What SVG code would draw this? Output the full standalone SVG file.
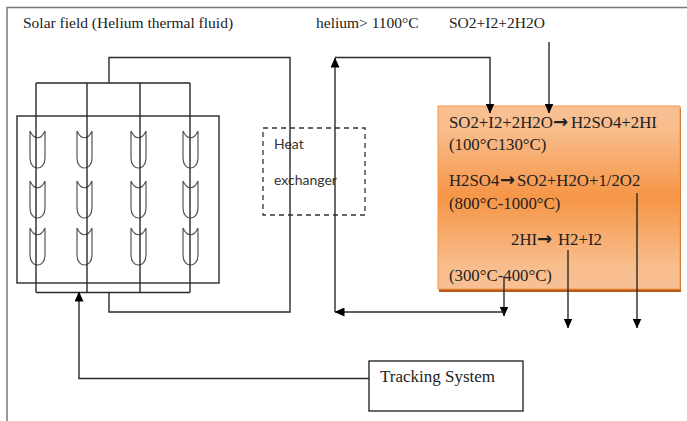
<svg xmlns="http://www.w3.org/2000/svg" width="687" height="421" viewBox="0 0 687 421">
<style>
text{font-family:"Liberation Serif",serif;font-size:15.5px;fill:#222}
.b{font-size:16.8px}
.ar{font-family:"DejaVu Sans",sans-serif;font-weight:bold;font-size:18px}
.ts{font-size:17px}
.l{fill:none;stroke:#2a2a2a;stroke-width:1.4}
.t{fill:none;stroke:#555;stroke-width:1.2}
text.s{font-family:"Lato",sans-serif;font-size:14px;fill:#333}
</style>
<defs>
<marker id="a" markerWidth="10" markerHeight="9" refX="9.5" refY="4.5" orient="auto" markerUnits="userSpaceOnUse"><path d="M0 0L10 4.5L0 9Z" fill="#000"/></marker>
<linearGradient id="g" x1="0" y1="0" x2="0" y2="1"><stop offset="0" stop-color="#f8c094"/><stop offset=".13" stop-color="#f8bd8c"/><stop offset=".5" stop-color="#f69546"/><stop offset=".87" stop-color="#f8bd8c"/><stop offset="1" stop-color="#f8c094"/></linearGradient>
<g id="u"><path class="t" d="M30 0V27C30 34 34 37 37.5 37C41 37 45 34 45 27V0M30 0C34 9 41 9 45 0"/></g>
</defs>
<rect width="687" height="421" fill="#fff"/>
<path d="M7 421V7.5H687" fill="none" stroke="#777" stroke-width="1.5"/>
<g id="solar-field">
<rect class="l" x="17" y="116" width="202" height="167"/>
<use href="#u" y="131"/><use href="#u" x="47" y="131"/><use href="#u" x="101" y="131"/><use href="#u" x="153" y="131"/>
<use href="#u" y="181"/><use href="#u" x="47" y="181"/><use href="#u" x="101" y="181"/><use href="#u" x="153" y="181"/>
<use href="#u" y="228"/><use href="#u" x="47" y="228"/><use href="#u" x="101" y="228"/><use href="#u" x="153" y="228"/>
</g>
<g id="heat-exchanger">
<rect x="263" y="128" width="102" height="87" fill="none" stroke="#333" stroke-width="1.3" stroke-dasharray="5 4"/>
<text class="s" x="274" y="149">Heat</text>
<text class="s" x="274" y="185">exchanger</text>
</g>
<g id="reactor">
<rect x="439" y="108" width="242" height="184" fill="#b85a1c"/>
<rect x="438" y="106" width="242" height="183" fill="url(#g)" stroke="#f79646"/>
<text class="b" x="449" y="128">SO2+I2+2H2O<tspan class="ar" x="553">→</tspan><tspan x="571">H2SO4+2HI</tspan></text>
<text class="b" x="449" y="150">(100°C130°C)</text>
<text class="b" x="449" y="186">H2SO4<tspan class="ar" x="500">→</tspan><tspan x="517">SO2+H2O+1/2O2</tspan></text>
<text class="b" x="449" y="209">(800°C-1000°C)</text>
<text class="b" x="511" y="245">2HI<tspan class="ar" x="537">→</tspan><tspan x="558">H2+I2</tspan></text>
<text class="b" x="449" y="281">(300°C-400°C)</text>
</g>
<g id="tracking-system">
<rect class="l" x="369" y="361" width="154" height="50"/>
<text class="ts" x="380" y="382">Tracking System</text>
</g>
<g id="labels">
<text x="23" y="28">Solar field (Helium thermal fluid)</text>
<text x="316" y="28">helium&gt; 1100°C</text>
<text x="449" y="28">SO2+I2+2H2O</text>
</g>
<g id="connectors">
<path class="l" d="M36 83H190M36 83V292.5M87 83V292.5M140 83V292.5M190 83V292.5M36 292.5H190"/>
<path class="l" d="M109 83V57.5H290V312H109V292.5"/>
<path class="l" d="M369 378.5H79V292" marker-end="url(#a)"/>
<path class="l" d="M335 312V58" marker-end="url(#a)"/>
<path class="l" d="M335 57.5H490V113" marker-end="url(#a)"/>
<path class="l" d="M549 42V113" marker-end="url(#a)"/>
<path class="l" d="M504 277V316" marker-end="url(#a)"/>
<path class="l" d="M504 312H335" marker-end="url(#a)"/>
<path class="l" d="M568 250V328" marker-end="url(#a)"/>
<path class="l" d="M637 193V328" marker-end="url(#a)"/>
</g>
</svg>
